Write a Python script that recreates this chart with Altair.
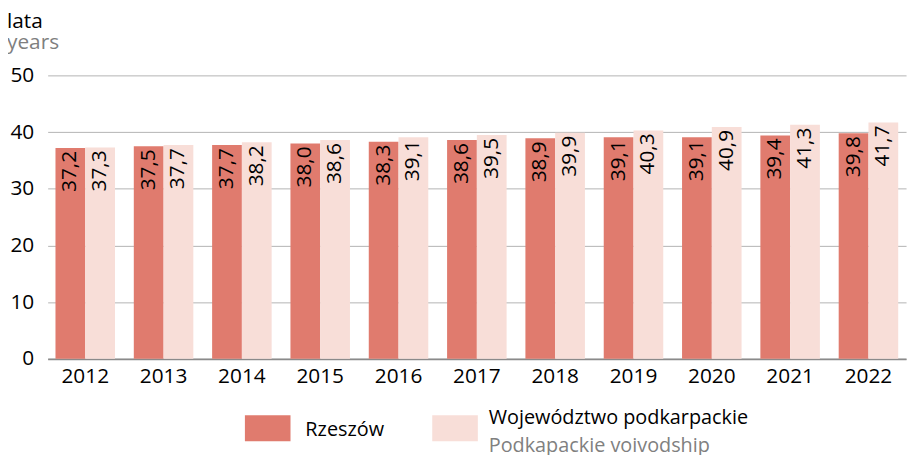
import altair as alt
import pandas as pd

years = [str(y) for y in range(2012, 2023)]
rzeszow = [37.2, 37.5, 37.7, 38.0, 38.3, 38.6, 38.9, 39.1, 39.1, 39.4, 39.8]
podkarpackie = [37.3, 37.7, 38.2, 38.6, 39.1, 39.5, 39.9, 40.3, 40.9, 41.3, 41.7]
series = ["Rzeszów", "Województwo podkarpackie"]
series_en = ["", "Podkapackie voivodship"]
colors = ["#E07B6E", "#F8DED8"]
y_ticks = [0, 10, 20, 30, 40, 50]

FONT = "Open Sans"

rows = []
for i, yr in enumerate(years):
    rows.append({"year": yr, "series": series[0], "value": rzeszow[i]})
    rows.append({"year": yr, "series": series[1], "value": podkarpackie[i]})
df = pd.DataFrame(rows)
df["label"] = df["value"].map(lambda v: f"{v:.1f}".replace(".", ","))

x = alt.X("year:N", sort=years,
          scale=alt.Scale(paddingInner=0.24, paddingOuter=0.1),
          axis=alt.Axis(title=None, labelAngle=0, labelFontSize=21, labelPadding=7,
                        ticks=False, domainColor="#8a8a8a", domainWidth=2,
                        labelColor="#000", labelFont=FONT))
xo = alt.XOffset("series:N", sort=series, scale=alt.Scale(paddingInner=0, paddingOuter=0))
y = alt.Y("value:Q", scale=alt.Scale(domain=[0, 50], nice=False),
          axis=alt.Axis(title=None, values=y_ticks, ticks=False, domain=False,
                        gridColor="#b3b3b3", gridWidth=1, labelPadding=14,
                        labelFontSize=21, labelColor="#000", labelFont=FONT))
color = alt.Color("series:N", sort=series,
                  scale=alt.Scale(domain=series, range=colors), legend=None)

bars = alt.Chart(df).mark_bar().encode(x=x, xOffset=xo, y=y, color=color)
labels = alt.Chart(df).mark_text(
    angle=270, align="right", baseline="middle", dx=-3,
    fontSize=21, font=FONT, color="#000"
).encode(x=x, xOffset=xo, y=alt.Y("value:Q"), text="label:N")

one = pd.DataFrame({"k": [0]})

def txt(s, xv, yv, col="#000", size=21):
    return alt.Chart(one).mark_text(
        align="left", baseline="alphabetic", fontSize=size, font=FONT, color=col
    ).encode(x=alt.value(xv), y=alt.value(yv), text=alt.value(s))

def swatch(xv, col):
    return alt.Chart(one).mark_rect(color=col).encode(
        x=alt.value(xv), x2=alt.value(xv + 46), y=alt.value(343), y2=alt.value(369))

layers = [
    bars, labels,
    txt("lata", -41, -48, "#000", 21),
    txt("years", -41, -27, "#7f7f7f", 21),
    swatch(199, colors[0]),
    txt(series[0], 260, 364, "#000", 20),
    swatch(388, colors[1]),
    txt(series[1], 445, 352, "#000", 20),
    txt(series_en[1], 445, 380, "#808080", 20),
]

chart = alt.layer(*layers).properties(
    width=866, height=286,
    padding={"left": 40, "top": 66, "right": 6, "bottom": 95},
    autosize="none",
).configure_view(stroke=None)

chart.save("out.html", embed_options={"renderer": "svg", "actions": False})
